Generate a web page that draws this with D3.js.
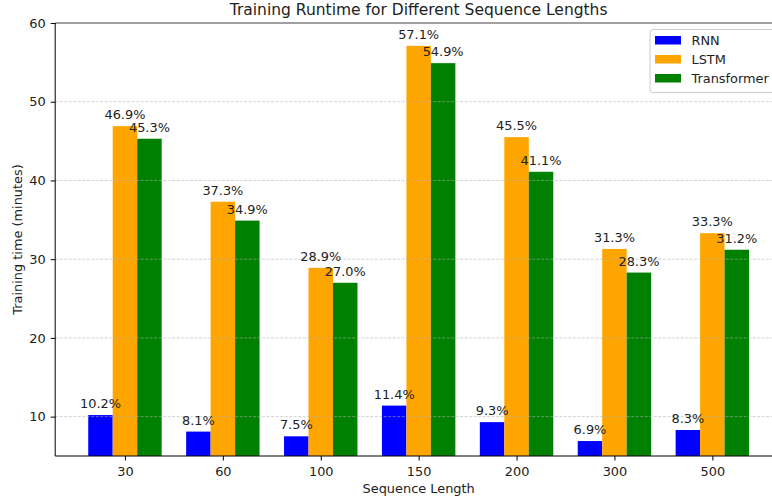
<!DOCTYPE html>
<html><head><meta charset="utf-8">
<script src="https://cdn.jsdelivr.net/npm/d3@7"></script>
<style>body{margin:0;background:#fff;} svg{display:block;font-family:"DejaVu Sans",sans-serif;}</style>
</head><body><svg id="c" width="772" height="500"></svg>
<script>
const categories = ["30","60","100","150","200","300","500"];
const seriesNames = ["RNN","LSTM","Transformer"];
const rnn = [10.2, 8.1, 7.5, 11.4, 9.3, 6.9, 8.3];
const lstm = [46.9, 37.3, 28.9, 57.1, 45.5, 31.3, 33.3];
const transformer = [45.3, 34.9, 27.0, 54.9, 41.1, 28.3, 31.2];
const yTicks = [10,20,30,40,50,60];
const colors = ["#0000ff","#ffa500","#008000"];

const FS = "12.9px";
const svg = d3.select("#c");
const L = 55.2, R = 782.1, T = 23, B = 456;
const x = d3.scaleLinear().domain([-0.7125, 6.7125]).range([L, R]);
const y = d3.scaleLinear().domain([5, 60]).range([B, T]);
const bw = 0.25;
const series = [rnn, lstm, transformer];

// bars
series.forEach((vals, si) => {
  svg.append("g").selectAll("rect").data(vals).join("rect")
    .attr("x", (d,i) => x(i + (si-1)*bw - bw/2))
    .attr("width", x(bw) - x(0))
    .attr("y", d => y(d))
    .attr("height", d => B - y(d))
    .attr("fill", colors[si]);
});

// grid (drawn over bars)
svg.append("g").selectAll("line").data(yTicks.filter(t => t < 60)).join("line")
  .attr("x1", L).attr("x2", R)
  .attr("y1", d => y(d)).attr("y2", d => y(d))
  .attr("stroke", "#b0b0b0").attr("stroke-opacity", 0.7)
  .attr("stroke-width", 0.8).attr("stroke-dasharray", "3,1.5");

// value labels
series.forEach((vals, si) => {
  svg.append("g").selectAll("text").data(vals).join("text")
    .attr("x", (d,i) => x(i + (si-1)*bw))
    .attr("y", d => y(d + 0.5) - 3)
    .attr("text-anchor", "middle")
    .attr("font-size", FS)
    .attr("fill", "#222")
    .text(d => d.toFixed(1) + "%");
});

// spines
svg.append("line").attr("x1", L).attr("x2", R).attr("y1", T).attr("y2", T)
  .attr("stroke", "#808080").attr("stroke-width", 1.6);
svg.append("line").attr("x1", L).attr("x2", L).attr("y1", T).attr("y2", B)
  .attr("stroke", "#000").attr("stroke-width", 1);
svg.append("line").attr("x1", L).attr("x2", R).attr("y1", B).attr("y2", B)
  .attr("stroke", "#000").attr("stroke-width", 1);
svg.append("line").attr("x1", R).attr("x2", R).attr("y1", T).attr("y2", B)
  .attr("stroke", "#000").attr("stroke-width", 1);

// x axis
const xa = svg.append("g").attr("transform", `translate(0,${B})`)
  .call(d3.axisBottom(x).tickValues(d3.range(categories.length)).tickFormat(i => categories[i]).tickSize(4.5).tickPadding(6.5));
xa.select(".domain").remove();
xa.selectAll("text").attr("font-size", FS).attr("font-family", "DejaVu Sans").attr("fill", "#222");
xa.selectAll("line").attr("stroke", "#000");

// y axis
const ya = svg.append("g").attr("transform", `translate(${L},0)`)
  .call(d3.axisLeft(y).tickValues(yTicks).tickSize(4.5).tickPadding(5));
ya.select(".domain").remove();
ya.selectAll("text").attr("font-size", FS).attr("font-family", "DejaVu Sans").attr("fill", "#222");
ya.selectAll("line").attr("stroke", "#000");

// axis labels & title
svg.append("text").attr("x", (L+R)/2).attr("y", 492.5).attr("text-anchor", "middle")
  .attr("font-size", FS).attr("fill", "#222").text("Sequence Length");
svg.append("text").attr("transform", `translate(21.5,${(T+B)/2}) rotate(-90)`).attr("text-anchor", "middle")
  .attr("font-size", FS).attr("fill", "#222").text("Training time (minutes)");
svg.append("text").attr("x", (L+R)/2).attr("y", 15).attr("text-anchor", "middle")
  .attr("font-size", "15.5px").attr("fill", "#222").text("Training Runtime for Different Sequence Lengths");

// legend
const lg = svg.append("g");
lg.append("rect").attr("x", 650).attr("y", 29.5).attr("width", 126).attr("height", 63)
  .attr("rx", 3).attr("fill", "#fff").attr("fill-opacity", 0.8).attr("stroke", "#cccccc");
seriesNames.forEach((n, i) => {
  const cy = 40 + i*19;
  lg.append("rect").attr("x", 655).attr("y", cy - 4).attr("width", 26).attr("height", 8.5).attr("fill", colors[i]);
  lg.append("text").attr("x", 691.5).attr("y", cy + 4.7).attr("font-size", FS).attr("fill", "#222").text(n);
});
</script></body></html>
